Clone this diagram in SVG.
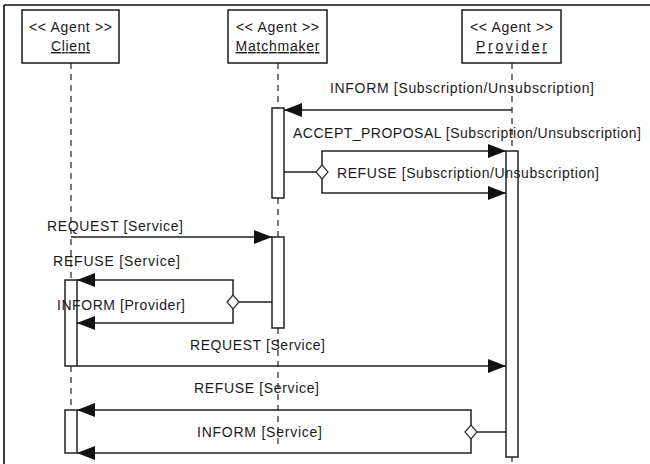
<svg xmlns="http://www.w3.org/2000/svg" width="650" height="464" viewBox="0 0 650 464">
<defs>
<style>
.lbl{font-family:"Liberation Sans",Arial,sans-serif;font-size:14px;fill:#1a1a1a}
.box{fill:#fff;stroke:#1a1a1a;stroke-width:1.5}
.life{stroke:#222;stroke-width:1.2;stroke-dasharray:6 5;fill:none}
.act{fill:#fff;stroke:#222;stroke-width:1.5}
.msg{stroke:#222;stroke-width:1.5;fill:none}
.arr{stroke:#222;stroke-width:1.5;fill:none;marker-end:url(#ah)}
.dia{fill:#fff;stroke:#333;stroke-width:1.2}
</style>
<marker id="ah" markerUnits="userSpaceOnUse" markerWidth="18" markerHeight="14" refX="18" refY="7" orient="auto">
<path d="M0,0 L18,7 L0,14 z" fill="#111"/>
</marker>
</defs>
<rect width="650" height="464" fill="#fff"/>
<path d="M4,5 H650 M4,5 V464" stroke="#111" stroke-width="1.6" fill="none"/>

<g id="client">
<rect class="box" x="22" y="10" width="97" height="53"/>
<text class="lbl" x="70.5" y="32" text-anchor="middle" textLength="83" lengthAdjust="spacing">&lt;&lt; Agent &gt;&gt;</text>
<text class="lbl" x="70.5" y="51" text-anchor="middle" textLength="39" lengthAdjust="spacing" text-decoration="underline">Client</text>
<path class="life" d="M71,63 V280 M71,366 V410"/>
<rect class="act" x="65" y="280" width="12" height="86"/>
<rect class="act" x="65" y="410" width="12" height="43"/>
</g>

<g id="matchmaker">
<rect class="box" x="228" y="10" width="99" height="53"/>
<text class="lbl" x="277.5" y="32" text-anchor="middle" textLength="83" lengthAdjust="spacing">&lt;&lt; Agent &gt;&gt;</text>
<text class="lbl" x="277.5" y="51" text-anchor="middle" textLength="84" lengthAdjust="spacing" text-decoration="underline">Matchmaker</text>
<path class="life" d="M278,63 V108 M278,198 V237 M278,328 V448"/>
<rect class="act" x="272" y="108" width="12" height="90"/>
<rect class="act" x="272" y="237" width="12" height="91"/>
</g>

<g id="provider">
<rect class="box" x="462" y="10" width="99" height="53"/>
<text class="lbl" x="511.5" y="32" text-anchor="middle" textLength="83" lengthAdjust="spacing">&lt;&lt; Agent &gt;&gt;</text>
<text class="lbl" x="511.5" y="51" text-anchor="middle" textLength="71" lengthAdjust="spacing" text-decoration="underline">Provider</text>
<path class="life" d="M512,63 V151 M512,457 V462"/>
<rect class="act" x="506" y="151" width="12" height="306"/>
</g>

<g id="connectors">
<line class="arr" x1="512" y1="110" x2="284" y2="110"/>
<line class="msg" x1="284" y1="172" x2="316" y2="172"/>
<path class="msg" d="M322,165 V151 M322,179 V193"/>
<line class="arr" x1="321.3" y1="151" x2="506" y2="151"/>
<line class="arr" x1="321.3" y1="193" x2="506" y2="193"/>
<polygon class="dia" points="316,172 322,165 328,172 322,179"/>

<line class="arr" x1="71" y1="237" x2="272" y2="237"/>

<line class="msg" x1="272" y1="302" x2="239" y2="302"/>
<path class="msg" d="M233,295 V280 M233,309 V323"/>
<line class="arr" x1="233.7" y1="280" x2="77" y2="280"/>
<line class="arr" x1="233.7" y1="323" x2="77" y2="323"/>
<polygon class="dia" points="227,302 233,295 239,302 233,309"/>

<line class="arr" x1="77" y1="366" x2="506" y2="366"/>

<line class="msg" x1="506" y1="432" x2="477" y2="432"/>
<path class="msg" d="M471,425 V410 M471,439 V453"/>
<line class="arr" x1="471.7" y1="410" x2="77" y2="410"/>
<line class="arr" x1="471.7" y1="453" x2="77" y2="453"/>
<polygon class="dia" points="465,432 471,425 477,432 471,439"/>

<text class="lbl" x="330" y="93" textLength="264" lengthAdjust="spacing">INFORM [Subscription/Unsubscription]</text>
<text class="lbl" x="293" y="138" textLength="348" lengthAdjust="spacing">ACCEPT_PROPOSAL [Subscription/Unsubscription]</text>
<text class="lbl" x="337" y="178" textLength="262" lengthAdjust="spacing">REFUSE [Subscription/Unsubscription]</text>
<text class="lbl" x="47" y="231" textLength="136" lengthAdjust="spacing">REQUEST [Service]</text>
<text class="lbl" x="53" y="266" textLength="127" lengthAdjust="spacing">REFUSE  [Service]</text>
<text class="lbl" x="57" y="310" textLength="128" lengthAdjust="spacing">INFORM [Provider]</text>
<text class="lbl" x="190" y="350" textLength="135" lengthAdjust="spacing">REQUEST [Service]</text>
<text class="lbl" x="194" y="393" textLength="125" lengthAdjust="spacing">REFUSE [Service]</text>
<text class="lbl" x="197" y="437" textLength="125" lengthAdjust="spacing">INFORM [Service]</text>
</g>
</svg>
